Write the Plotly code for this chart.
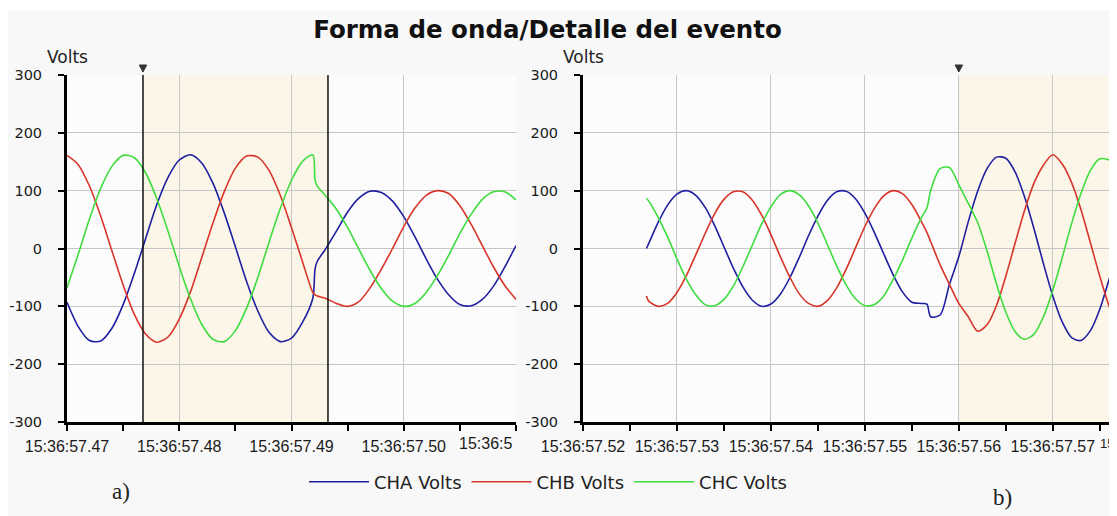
import plotly.graph_objects as go

# ---------------- data ----------------
# left panel: time offsets in ms after 15:36:57.470
left_ms = [0, 1, 2, 3, 4, 5, 6, 7, 8, 9, 10, 11, 12, 13, 14, 15, 16, 17, 18, 19, 20, 21,
           21.9, 22.1, 22.3, 23, 24, 25, 26, 27, 28, 29, 30, 31, 32, 33, 34, 35, 36, 37, 38, 39, 40]
cha_left = [-93, -135, -159, -160, -138, -97, -43, 17, 76, 123, 153, 162, 148, 113, 62, 3, -57, -108, -145, -161, -155, -127,
            -86, -35, -22, -2, 30, 63, 87, 99, 97, 82, 55, 20, -18, -53, -80, -97, -99, -88, -65, -32, 5]
chb_left = [161, 145, 108, 56, -4, -63, -114, -148, -162, -153, -122, -75, -16, 44, 98, 139, 160, 158, 135, 92, 36, -24,
            -76, -80, -82, -86, -95, -100, -92, -68, -36, 0, 38, 70, 92, 100, 95, 74, 42, 5, -32, -64, -88]
chc_left = [-68, -10, 51, 104, 142, 161, 157, 131, 86, 30, -31, -87, -131, -157, -161, -142, -103, -50, 11, 69, 118, 151,
            162, 118, 108, 92, 68, 36, -1, -38, -69, -91, -100, -95, -76, -47, -12, 26, 59, 85, 98, 98, 84]

# right panel: time offsets in ms after 15:36:57.520
right_ms = [6.75, 7, 8, 9, 10, 11, 12, 13, 14, 15, 16, 17, 18, 19, 20, 21, 22, 23, 24, 25, 26, 27, 28, 29, 30,
            31, 32, 33, 34, 35, 36, 36.6, 37, 38, 39, 40, 41, 42, 43, 44, 45, 46, 47, 48, 49, 50, 51, 52, 53,
            54, 55, 56, 56.4]
cha_right = [0, 9, 45, 75, 94, 100, 92, 71, 40, 3, -34, -66, -89, -100, -96, -79, -51, -16, 22, 56, 83, 98, 99, 86, 61,
             28, -9, -45, -75, -93, -95, -96, -118, -115, -62, -14, 46, 99, 138, 158, 156, 132, 89, 34, -26, -82, -127, -154, -159,
             -142, -105, -53, -30]
chb_right = [-82, -91, -100, -95, -76, -47, -11, 26, 60, 85, 98, 98, 84, 58, 24, -14, -49, -78, -95, -100, -90, -68, -36, 1, 38,
             69, 91, 100, 95, 76, 47, 28, 12, -28, -62, -95, -118, -143, -132, -99, -48, 10, 66, 113, 144, 162, 146, 114, 67,
             10, -48, -100, -116]
chc_right = [87, 82, 54, 20, -18, -53, -80, -97, -99, -88, -65, -32, 5, 42, 72, 93, 100, 93, 74, 44, 7, -30, -63, -87, -99,
             -97, -82, -54, -20, 18, 53, 70, 100, 138, 140, 110, 78, 45, -4, -61, -110, -144, -157, -148, -118, -72, -16, 43, 95,
             135, 155, 153, 147]

series_names = ["CHA Volts", "CHB Volts", "CHC Volts"]
series_colors = ["#1f1fa0", "#d8352a", "#3fdc3f"]

left_start = 57.47
right_start = 57.52
left_end = 57.51
right_end = 57.5763

left_tick_vals = [57.47, 57.48, 57.49, 57.50, 57.51]
left_tick_text = ["15:36:57.47", "15:36:57.48", "15:36:57.49", "15:36:57.50", ""]
left_cut_label = "15:36:5"          # last left label, cut off by the right panel in the original
right_cut_label = "15"              # next right label, cut off by the window edge in the original
left_minor_vals = [57.475, 57.485, 57.495, 57.505]
right_tick_vals = [57.52, 57.53, 57.54, 57.55, 57.56, 57.57]
right_tick_text = ["15:36:57.52", "15:36:57.53", "15:36:57.54", "15:36:57.55", "15:36:57.56", "15:36:57.57"]
right_minor_vals = [57.525, 57.535, 57.545, 57.555, 57.565, 57.575]
y_tick_vals = [-300, -200, -100, 0, 100, 200, 300]
y_tick_text = ["-300", "-200", "-100", "0", "100", "200", "300"]

left_cursors = [57.47677, 57.49325]
right_cursor = 57.56

# ---------------- figure ----------------
OFF = 8                      # page body margin
W, H = 1117 - OFF, 516 - OFF


def px(x):
    return (x - OFF) / W


def py(y):
    return 1 - (y - OFF) / H


fig = go.Figure()

left_t = [left_start + m / 1000 for m in left_ms]
right_t = [right_start + m / 1000 for m in right_ms]

for name, color, yl, yr in zip(series_names, series_colors,
                                [cha_left, chb_left, chc_left],
                                [cha_right, chb_right, chc_right]):
    fig.add_trace(go.Scatter(x=left_t, y=yl, mode="lines", name=name,
                             line=dict(color=color, width=1.6, shape="spline", smoothing=0.8),
                             xaxis="x", yaxis="y", legendgroup=name, showlegend=True))
    fig.add_trace(go.Scatter(x=right_t, y=yr, mode="lines", name=name,
                             line=dict(color=color, width=1.6, shape="spline", smoothing=0.8),
                             xaxis="x2", yaxis="y2", legendgroup=name, showlegend=False))


def cursor_triangle(xref, xc, half_w):
    yt, yb = py(65), py(72)
    return dict(type="path", xref=xref, yref="paper",
                path=f"M {xc - half_w},{yt} L {xc + half_w},{yt} L {xc},{yb} Z",
                fillcolor="#333333", line=dict(color="#333333", width=1))


shade = "#fcf6e8"
shapes = [
    dict(type="rect", xref="paper", yref="paper", x0=0, x1=1, y0=py(10), y1=1,
         fillcolor="white", line=dict(width=0), layer="below"),
    dict(type="rect", xref="x", yref="y domain", x0=left_cursors[0], x1=left_cursors[1], y0=0, y1=1,
         fillcolor=shade, line=dict(width=0), layer="below"),
    dict(type="rect", xref="x2", yref="y2 domain", x0=right_cursor, x1=right_end, y0=0, y1=1,
         fillcolor=shade, line=dict(width=0), layer="below"),
    dict(type="line", xref="x", yref="y domain", x0=left_cursors[0], x1=left_cursors[0], y0=0, y1=1,
         line=dict(color="#111111", width=1.5)),
    dict(type="line", xref="x", yref="y domain", x0=left_cursors[1], x1=left_cursors[1], y0=0, y1=1,
         line=dict(color="#111111", width=1.5)),
    dict(type="line", xref="x2 domain", yref="y2 domain", x0=1, x1=1, y0=0, y1=1,
         line=dict(color="#333333", width=2)),
    cursor_triangle("x", left_cursors[0], 0.00033),
    cursor_triangle("x2", right_cursor, 0.0004),
]

xtick_font = dict(family="Liberation Sans, Arial, sans-serif", size=16, color="#1a1a1a")
ytick_font = dict(family="DejaVu Sans, sans-serif", size=14.5, color="#1a1a1a")
grid_color = "#c6c6c6"

xcommon = dict(showline=True, linecolor="black", linewidth=3, ticks="outside", ticklen=6, tickwidth=1.5,
               tickcolor="black", showgrid=True, gridcolor=grid_color, gridwidth=1, zeroline=False,
               tickfont=xtick_font, tickmode="array", automargin=False, fixedrange=True,
               ticklabelstandoff=2)
ycommon = dict(showline=True, linecolor="black", linewidth=3, ticks="outside", ticklen=6, tickwidth=1.5,
               tickcolor="black", showgrid=True, gridcolor=grid_color, gridwidth=1, zeroline=False,
               tickfont=ytick_font, tickmode="array", tickvals=y_tick_vals, ticktext=y_tick_text,
               range=[-300, 300], domain=[py(422), py(75)], fixedrange=True, automargin=False,
               ticklabelstandoff=13)

fig.update_layout(
    width=W, height=H, autosize=False,
    margin=dict(l=0, r=0, t=0, b=0, pad=0),
    paper_bgcolor="#f8f8f8", plot_bgcolor="#fcfcfc",
    title=dict(text="Forma de onda/Detalle del evento", x=px(547.5), y=py(29),
               xanchor="center", yanchor="middle", xref="paper", yref="paper",
               font=dict(family="DejaVu Sans, sans-serif", size=24.5, color="#111111", weight="bold")),
    xaxis=dict(**xcommon, anchor="y",
               domain=[px(67), px(516)], range=[left_start, left_end],
               tickvals=left_tick_vals, ticktext=left_tick_text,
               minor=dict(tickmode="array", tickvals=left_minor_vals, ticks="outside", ticklen=6,
                          tickwidth=1.5, tickcolor="black", showgrid=False)),
    xaxis2=dict(**xcommon, anchor="y2",
                domain=[px(583), px(1112)], range=[right_start, right_end],
                tickvals=right_tick_vals, ticktext=right_tick_text,
                minor=dict(tickmode="array", tickvals=right_minor_vals, ticks="outside", ticklen=6,
                           tickwidth=1.5, tickcolor="black", showgrid=False)),
    yaxis=dict(**ycommon, anchor="x"),
    yaxis2=dict(**ycommon, anchor="x2"),
    shapes=shapes,
    showlegend=True,
    legend=dict(orientation="h", x=px(548), y=py(482), xanchor="center", yanchor="middle",
                bgcolor="rgba(0,0,0,0)", font=dict(family="DejaVu Sans, sans-serif", size=18, color="#222222"),
                itemwidth=60, tracegroupgap=0),
    annotations=[
        dict(text="Volts", x=px(67), y=py(57), xref="paper", yref="paper", showarrow=False,
             xanchor="center", yanchor="middle",
             font=dict(family="DejaVu Sans, sans-serif", size=17, color="#222222")),
        dict(text="Volts", x=px(583), y=py(57), xref="paper", yref="paper", showarrow=False,
             xanchor="center", yanchor="middle",
             font=dict(family="DejaVu Sans, sans-serif", size=17, color="#222222")),
        dict(text=left_cut_label, x=px(514), y=py(443), xref="paper", yref="paper", showarrow=False,
             xanchor="right", yanchor="middle", font=xtick_font),
        dict(text=right_cut_label, x=px(1116), y=py(443), xref="paper", yref="paper", showarrow=False,
             xanchor="right", yanchor="middle",
             font=dict(family="Liberation Sans, Arial, sans-serif", size=13, color="#1a1a1a")),
        dict(text="a)", x=px(121), y=py(491), xref="paper", yref="paper", showarrow=False,
             xanchor="center", yanchor="middle",
             font=dict(family="Liberation Serif, serif", size=23, color="#222222")),
        dict(text="b)", x=px(1002), y=py(497), xref="paper", yref="paper", showarrow=False,
             xanchor="center", yanchor="middle",
             font=dict(family="Liberation Serif, serif", size=23, color="#222222")),
    ],
)

fig.write_html("out.html")
